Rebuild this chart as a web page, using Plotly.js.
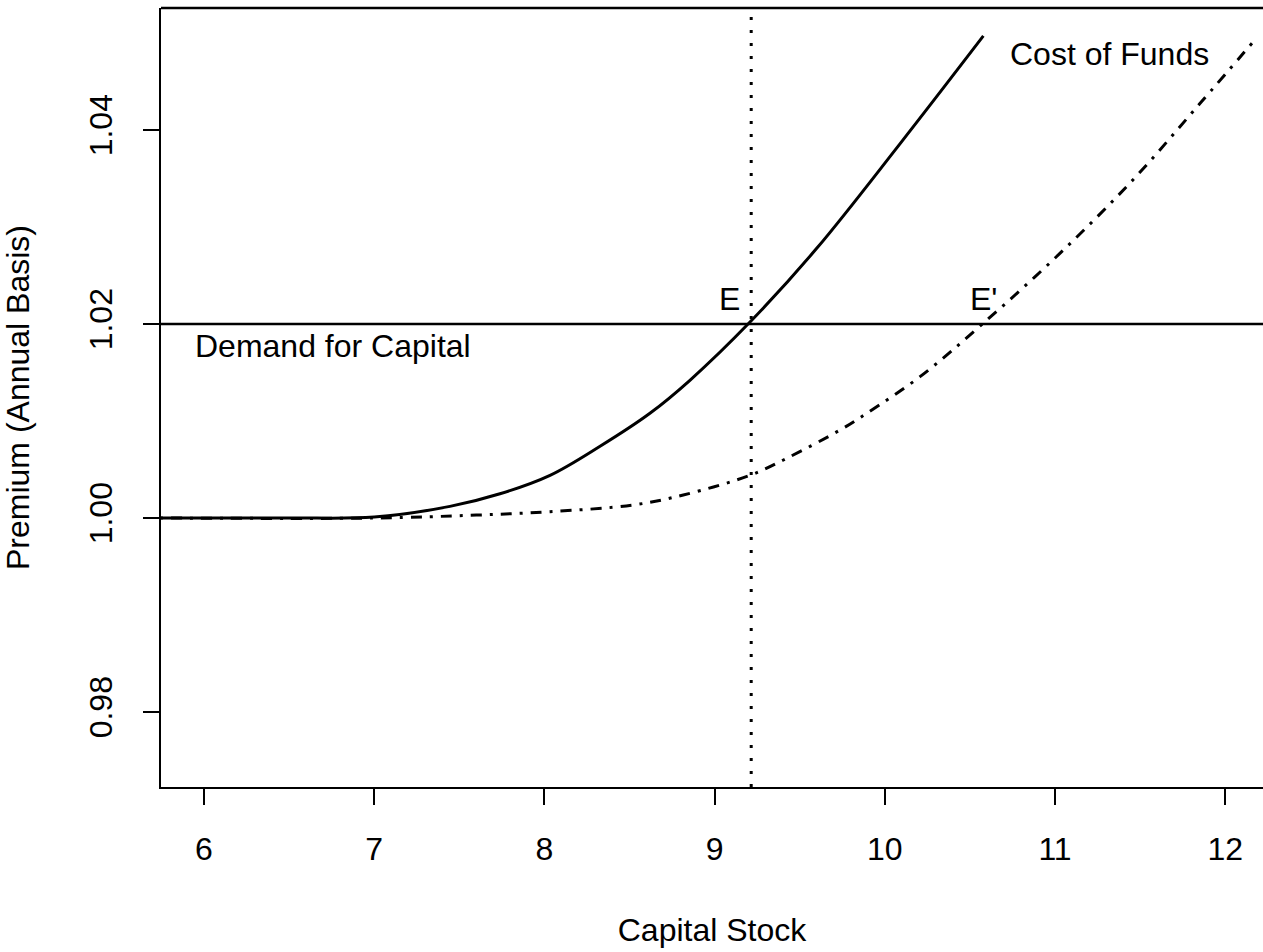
<!DOCTYPE html>
<html>
<head>
<meta charset="utf-8">
<script src="https://cdn.plot.ly/plotly-3.0.1.min.js"></script>
<style>
html,body{margin:0;padding:0;background:#fff;}
#chart{width:1263px;height:952px;}
</style>
</head>
<body>
<div id="chart"></div>
<script>
// Cost of funds (original)
const costX = [5.74, 6.5, 7.0, 7.445, 7.739, 8.033, 8.327, 8.62, 8.855, 9.208, 9.6, 10.09, 10.579];
const costY = [1.0, 1.0, 1.0001, 1.0012, 1.0025, 1.0044, 1.0074, 1.0108, 1.0142, 1.0202, 1.0278, 1.0386, 1.0497];
// Cost of funds (shifted)
const shiftX = [5.74, 7.0, 7.6, 8.033, 8.522, 8.816, 9.208, 9.404, 9.737, 9.894, 10.207, 10.58, 11.03, 11.46, 11.85, 12.165];
const shiftY = [1.0, 1.0, 1.0003, 1.00065, 1.00134, 1.00237, 1.0044, 1.00598, 1.00907, 1.0108, 1.01457, 1.0201, 1.0273, 1.0349, 1.0427, 1.0491];
// Demand for capital level and equilibrium capital stock
const demandLevel = 1.02;
const eqK = 9.215;
const xTicks = [6, 7, 8, 9, 10, 11, 12];
const yTicks = [0.98, 1.00, 1.02, 1.04];
const yTickText = ["0.98", "1.00", "1.02", "1.04"];

const FONT = "Liberation Sans, Arial, Helvetica, sans-serif";
const FS = 32;

const traces = [
  {x: costX, y: costY, mode: "lines", line: {color: "#000", width: 3, shape: "spline", smoothing: 1}, hoverinfo: "skip"},
  {x: shiftX, y: shiftY, mode: "lines", line: {color: "#000", width: 3, shape: "spline", smoothing: 1, dash: "3px,8px,11px,8px"}, hoverinfo: "skip"}
];

const layout = {
  width: 1263, height: 952,
  margin: {l: 161, r: 0, t: 8, b: 165},
  paper_bgcolor: "#fff", plot_bgcolor: "#fff",
  showlegend: false,
  font: {family: FONT, size: FS, color: "#000"},
  xaxis: {
    range: [5.7474, 12.222],
    tickvals: xTicks, ticktext: xTicks.map(String),
    ticks: "outside", ticklen: 16, tickwidth: 2, tickcolor: "#000",
    showline: true, linewidth: 2, linecolor: "#000",
    showgrid: false, zeroline: false,
    ticklabelstandoff: 17,
    tickfont: {family: FONT, size: FS, color: "#000"},
    title: {text: "Capital Stock", font: {family: FONT, size: FS, color: "#000"}, standoff: 52},
    automargin: false
  },
  yaxis: {
    range: [0.972268, 1.052577],
    tickvals: yTicks, ticktext: yTickText, tickangle: -90,
    ticks: "outside", ticklen: 16, tickwidth: 2, tickcolor: "#000",
    showline: true, linewidth: 2, linecolor: "#000",
    showgrid: false, zeroline: false,
    ticklabelstandoff: 18,
    tickfont: {family: FONT, size: FS, color: "#000"},
    title: {text: "Premium (Annual Basis)", font: {family: FONT, size: FS, color: "#000"}, standoff: 48},
    automargin: false
  },
  shapes: [
    {type: "line", xref: "paper", yref: "paper", x0: 0, x1: 1, y0: 1, y1: 1, line: {color: "#000", width: 2.5}},
    {type: "line", xref: "paper", yref: "y", x0: 0, x1: 1, y0: demandLevel, y1: demandLevel, line: {color: "#000", width: 2.5}},
    {type: "line", xref: "x", yref: "paper", x0: eqK, x1: eqK, y0: 0, y1: 1, line: {color: "#000", width: 3, dash: "3px,10px"}}
  ],
  annotations: [
    {text: "Demand for Capital", x: 5.935, y: 1.0177, xref: "x", yref: "y", xanchor: "left", yanchor: "middle", showarrow: false, font: {family: FONT, size: FS, color: "#000"}},
    {text: "Cost of Funds", x: 10.724, y: 1.0478, xref: "x", yref: "y", xanchor: "left", yanchor: "middle", showarrow: false, font: {family: FONT, size: FS, color: "#000"}},
    {text: "E", x: 9.085, y: 1.0226, xref: "x", yref: "y", xanchor: "center", yanchor: "middle", showarrow: false, font: {family: FONT, size: FS, color: "#000"}},
    {text: "E'", x: 10.49, y: 1.0226, xref: "x", yref: "y", xanchor: "left", yanchor: "middle", showarrow: false, font: {family: FONT, size: FS, color: "#000"}}
  ]
};

Plotly.newPlot("chart", traces, layout, {staticPlot: true, displayModeBar: false});
</script>
</body>
</html>
